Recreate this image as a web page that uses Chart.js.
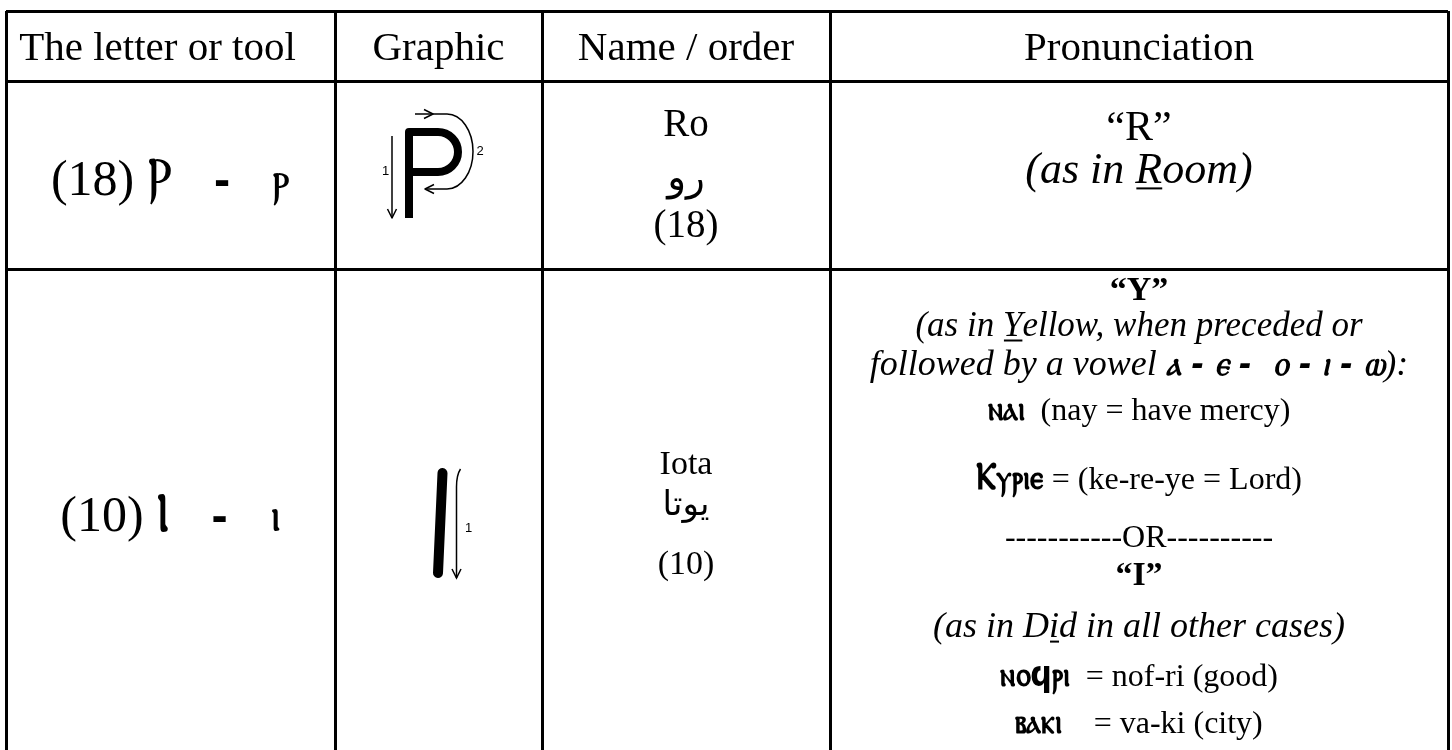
<!DOCTYPE html>
<html lang="en">
<head>
<meta charset="utf-8">
<title>Coptic letters: Ro and Iota</title>
<script src="https://cdn.jsdelivr.net/npm/chart.js@4.4.1/dist/chart.umd.min.js"></script>
<style>
    html, body { margin: 0; padding: 0; background: #ffffff; }
    #holder { width: 1452px; height: 750px; }
</style>
</head>
<body>
<div id="holder"><canvas id="lettersTable" width="1452" height="750"></canvas></div>
<script>
// table content
const columnHeaders = ['The letter or tool', 'Graphic', 'Name / order', 'Pronunciation'];
const letterNumbers = ['(18)', '(10)'];
const capitalLetters = ['Ⲣ', 'Ⲓ'];
const smallLetters = ['ⲣ', 'ⲓ'];
const letterNames = ['Ro', 'Iota'];
const arabicNames = ['رو', 'يوتا'];
const letterOrders = ['(18)', '(10)'];
const strokeLabels = [['1', '2'], ['1']];

// pronunciation notes: one list of [kind, text] pieces per printed line
const roSounds = [
    [['plain', '“R”']],
    [['em', '(as in '], ['emKey', 'R'], ['em', 'oom)']]
];
const iotaSounds = [
    [['strong', '“Y”']],
    [['em', '(as in '], ['emKey', 'Y'], ['em', 'ellow, when preceded or']],
    [['em', 'followed by a vowel '], ['copticEm', 'ⲁ - ⲉ -  ⲟ - ⲓ - ⲱ'], ['em', '):']],
    [['coptic', 'ⲛⲁⲓ'], ['plain', '  (nay = have mercy)']],
    [['copticBig', 'Ⲕ'], ['coptic', 'ⲩⲣⲓⲉ'], ['plain', ' = (ke-re-ye = Lord)']],
    [['plain', '-----------OR----------']],
    [['strong', '“I”']],
    [['em', '(as in D'], ['emKey', 'i'], ['em', 'd in all other cases)']],
    [['coptic', 'ⲛⲟϥⲣⲓ'], ['plain', '  = nof-ri (good)']],
    [['coptic', 'ⲃⲁⲕⲓ'], ['plain', '    = va-ki (city)']]
];
const soundsByRow = [roSounds, iotaSounds];

// layout (table units = pixels from the table's top-left corner)
const TABLE_W = 1442;
const TABLE_H = 739;
const columnEdges = [0, 329, 536, 824, 1442];
const rowEdges = [0, 70, 258];
const headerBaseline = 49;
const headerSize = 41;
const headerShift = [-13, 0, 0, 0];
const letterBaselines = [184, 520];
const letterSize = 50;
const nameBaselines = [[125, 179, 226], [463, 504, 563]];
const nameSizes = [39, 34];
const soundBaselines = [[129, 172], [289, 325, 364, 409, 478, 536, 574, 626, 675, 722]];
const soundSizes = [[42, 44], [34, 35, 36, 32, 32, 32, 34, 36, 32, 32]];
const graphicTops = [117, 446];

const SERIF = '"Liberation Serif", "DejaVu Serif", "DejaVu Sans", serif';
const SANS = '"DejaVu Sans", "Noto Sans", sans-serif';
const LABEL = '"Liberation Sans", Arial, sans-serif';

// font and horizontal squeeze for each kind of piece
const pieceStyles = {
    plain: { font: s => `${s}px ${SERIF}`, squeeze: 1 },
    em: { font: s => `italic ${s}px ${SERIF}`, squeeze: 1 },
    emKey: { font: s => `italic ${s}px ${SERIF}`, squeeze: 1 },
    strong: { font: s => `bold ${s}px ${SERIF}`, squeeze: 1 },
    coptic: { font: s => `bold ${Math.round(s * 1.1)}px ${SANS}`, squeeze: 0.86 },
    copticEm: { font: s => `italic bold ${Math.round(s * 0.95)}px ${SANS}`, squeeze: 0.9 },
    copticBig: { font: s => `bold ${Math.round(s * 1.2)}px ${SANS}`, squeeze: 0.85 },
    capital: { font: s => `${Math.round(s * 1.08)}px ${SANS}`, squeeze: 0.9 },
    small: { font: s => `${Math.round(s * 0.95)}px ${SANS}`, squeeze: 1 },
    dash: { font: s => `bold ${Math.round(s * 0.8)}px ${SANS}`, squeeze: 1 }
};

// draws one line of mixed pieces centred on cx
function drawPieces(ctx, pieces, cx, baseY, size) {
    let total = 0;
    const parts = pieces.map(([kind, text]) => {
        const style = pieceStyles[kind];
        const font = style.font(size);
        ctx.font = font;
        const w = ctx.measureText(text).width * style.squeeze;
        total += w;
        return { kind, text, font, w, squeeze: style.squeeze };
    });
    let x = cx - total / 2;
    parts.forEach(p => {
        ctx.save();
        ctx.font = p.font;
        ctx.translate(x, baseY);
        ctx.scale(p.squeeze, 1);
        ctx.fillText(p.text, 0, 0);
        ctx.restore();
        if (p.kind === 'emKey') {
            ctx.fillRect(x + 1, baseY + size * 0.1, p.w - 1, 2);
        }
        x += p.w;
    });
}

function arrowHead(ctx, x, y, dirX, dirY) {
    // small open arrow head pointing along (dirX, dirY)
    const len = 9, half = 4.5;
    const px = -dirY, py = dirX;
    ctx.beginPath();
    ctx.moveTo(x - dirX * len + px * half, y - dirY * len + py * half);
    ctx.lineTo(x, y);
    ctx.lineTo(x - dirX * len - px * half, y - dirY * len - py * half);
    ctx.stroke();
}

function drawRoGraphic(ctx, cx, top, labels) {
    ctx.save();
    ctx.strokeStyle = '#000';
    // the letter itself
    ctx.lineWidth = 8;
    ctx.lineJoin = 'round';
    ctx.beginPath();
    ctx.moveTo(cx - 29.5, top + 90);
    ctx.lineTo(cx - 29.5, top + 4);
    ctx.lineTo(cx - 0.5, top + 4);
    ctx.arc(cx - 0.5, top + 24, 20, -Math.PI / 2, Math.PI / 2);
    ctx.lineTo(cx - 29.5, top + 44);
    ctx.stroke();
    // stroke 1: straight down
    ctx.lineWidth = 1.5;
    ctx.beginPath();
    ctx.moveTo(cx - 46.5, top + 8);
    ctx.lineTo(cx - 46.5, top + 90);
    ctx.stroke();
    arrowHead(ctx, cx - 46.5, top + 90, 0, 1);
    // stroke 2: round the bowl
    ctx.beginPath();
    ctx.moveTo(cx - 23.5, top - 14);
    ctx.lineTo(cx + 8.5, top - 14);
    ctx.ellipse(cx + 8.5, top + 23.5, 26, 37.5, 0, -Math.PI / 2, Math.PI / 2);
    ctx.lineTo(cx - 13.5, top + 61);
    ctx.stroke();
    arrowHead(ctx, cx - 5.5, top - 14, 1, 0);
    arrowHead(ctx, cx - 13.5, top + 61, -1, 0);
    ctx.fillStyle = '#000';
    ctx.font = `13px ${LABEL}`;
    ctx.textAlign = 'center';
    ctx.textBaseline = 'middle';
    ctx.fillText(labels[0], cx - 53, top + 43);
    ctx.fillText(labels[1], cx + 41.5, top + 23);
    ctx.restore();
}

function drawIotaGraphic(ctx, cx, top, labels) {
    ctx.save();
    ctx.strokeStyle = '#000';
    ctx.lineCap = 'round';
    ctx.lineWidth = 10;
    ctx.beginPath();
    ctx.moveTo(cx + 4, top + 16);
    ctx.lineTo(cx - 0.5, top + 116);
    ctx.stroke();
    ctx.lineCap = 'butt';
    ctx.lineWidth = 1.5;
    ctx.beginPath();
    ctx.moveTo(cx + 22, top + 12);
    ctx.quadraticCurveTo(cx + 18, top + 18, cx + 18, top + 30);
    ctx.lineTo(cx + 18, top + 121);
    ctx.stroke();
    arrowHead(ctx, cx + 18, top + 121, 0, 1);
    ctx.fillStyle = '#000';
    ctx.font = `13px ${LABEL}`;
    ctx.textAlign = 'center';
    ctx.textBaseline = 'middle';
    ctx.fillText(labels[0], cx + 30, top + 71);
    ctx.restore();
}

const tableText = {
    id: 'tableText',
    afterDraw(chart) {
        const { ctx, scales: { x, y } } = chart;
        const colCenter = i => x.getPixelForValue((columnEdges[i] + columnEdges[i + 1]) / 2);
        ctx.save();
        ctx.fillStyle = '#000';
        ctx.textBaseline = 'alphabetic';
        ctx.textAlign = 'left';

        // header row
        columnHeaders.forEach((h, i) => {
            drawPieces(ctx, [['plain', h]], colCenter(i) + headerShift[i], y.getPixelForValue(headerBaseline), headerSize);
        });

        letterNumbers.forEach((num, r) => {
            // the letter or tool
            drawPieces(ctx, [['plain', num + ' '], ['capital', capitalLetters[r]], ['dash', '   -   '], ['small', smallLetters[r]]],
                colCenter(0), y.getPixelForValue(letterBaselines[r]), letterSize);

            // graphic
            const gTop = y.getPixelForValue(graphicTops[r]);
            if (r === 0) drawRoGraphic(ctx, colCenter(1), gTop, strokeLabels[r]);
            else drawIotaGraphic(ctx, colCenter(1), gTop, strokeLabels[r]);

            // name / order
            const nameLines = [letterNames[r], arabicNames[r], letterOrders[r]];
            nameLines.forEach((t, k) => {
                drawPieces(ctx, [['plain', t]], colCenter(2), y.getPixelForValue(nameBaselines[r][k]), nameSizes[r]);
            });

            // pronunciation
            soundsByRow[r].forEach((line, k) => {
                drawPieces(ctx, line, colCenter(3), y.getPixelForValue(soundBaselines[r][k]), soundSizes[r][k]);
            });
        });
        ctx.restore();
    }
};

const gridScale = (edges, max, reverse) => ({
    type: 'linear',
    min: 0,
    max: max,
    reverse: reverse,
    afterBuildTicks: axis => { axis.ticks = edges.map(v => ({ value: v })); },
    ticks: { display: false },
    grid: { color: '#000000', lineWidth: 3, drawTicks: false, tickLength: 0 },
    border: { display: false }
});

new Chart(document.getElementById('lettersTable'), {
    type: 'scatter',
    data: { datasets: [] },
    options: {
        responsive: false,
        animation: false,
        events: [],
        layout: { padding: { left: 6, right: 4, top: 11, bottom: 0 } },
        plugins: { legend: { display: false }, tooltip: { enabled: false } },
        scales: {
            x: gridScale(columnEdges, TABLE_W, false),
            y: gridScale(rowEdges, TABLE_H, true)
        }
    },
    plugins: [tableText]
});
</script>
</body>
</html>
